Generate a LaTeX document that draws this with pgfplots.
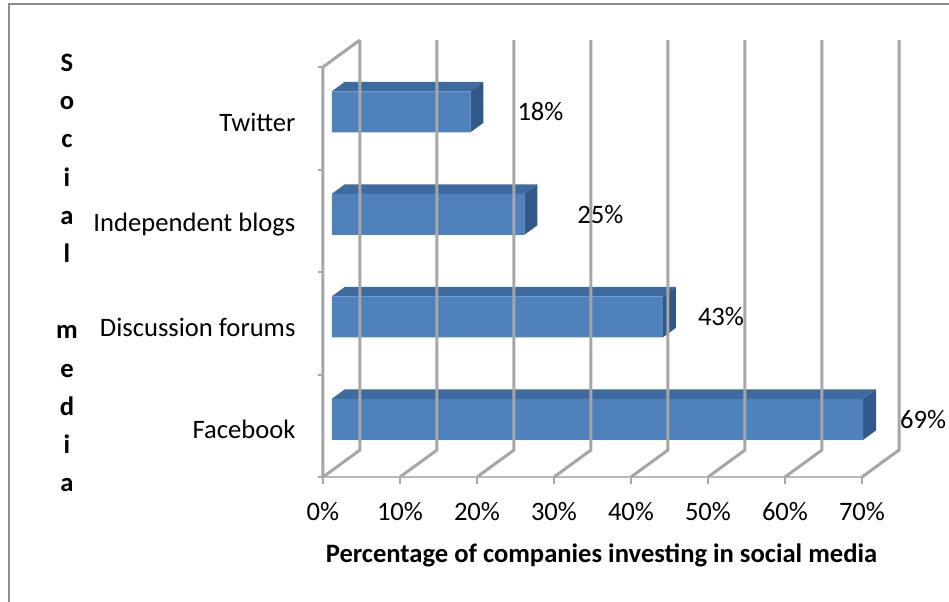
\documentclass[border=0pt]{standalone}
\usepackage{pgfplots}
\usepackage{pgfplotstable}
\pgfplotsset{compat=1.18}
\usepackage{fontspec}
\setmainfont{Carlito}
\definecolor{barfront}{HTML}{4F81BD}
\definecolor{bartop}{HTML}{3D6A9F}
\definecolor{barside}{HTML}{30588A}
\definecolor{gridgray}{HTML}{A6A6A6}
\definecolor{framegray}{HTML}{8C8C8C}
\pgfplotstableread{
y      val  off
0.5632 69   33.5
1.5632 43   31.5
2.5632 25   49.5
3.5632 18   43.5
}\data
\begin{document}
\begin{tikzpicture}
\begin{axis}[
  scale only axis, width=576pt, height=437pt,
  xmin=0, xmax=74.805, ymin=0, ymax=4.2634,
  enlargelimits=false, clip=false,
  axis line style={draw=none},
  /pgf/number format/assume math mode=true,
  xtick={0,10,...,70},
  xticklabels={0\%,10\%,20\%,30\%,40\%,50\%,60\%,70\%},
  xtick pos=left, tick align=outside, major tick length=7pt,
  x tick style={draw=gridgray, line width=2pt},
  ytick={0.5,1.5,2.5,3.5},
  yticklabels={Facebook,Discussion forums,Independent blogs,Twitter},
  ytick pos=left,
  y tick style={draw=none},
  tick label style={font=\fontsize{26.6}{31}\selectfont, text=black},
  xticklabel style={anchor=center, yshift=-28pt},
  yticklabel style={anchor=east, xshift=-17pt, yshift=-4pt},
  xlabel={Percentage of companies investing in social media},
  xlabel style={at={(axis cs:36.17,-0.761)}, anchor=center, font=\bfseries\fontsize{26.6}{31}\selectfont},
  ylabel={S\\o\\c\\i\\a\\l\\\mbox{}\\m\\e\\d\\i\\a},
  ylabel style={rotate=-90, at={(axis cs:-33.25,1.99)}, anchor=center, align=center, font=\bfseries\fontsize{26.6}{38.2}\selectfont},
  xbar stacked, bar width=0.4,
]
% frame
\draw[framegray, line width=1.5pt] (axis cs:-40.78,-1.3) -- (axis cs:-40.78,4.6146) -- (axis cs:85,4.6146);
% floor diagonals and back-wall gridlines
\pgfplotsinvokeforeach{0,10,20,30,40,50,60,70}{
  \draw[gridgray, line width=3pt, line join=miter] (axis cs:#1,0) -- (axis cs:{#1+4.805},0.2634) -- (axis cs:{#1+4.805},4.2634);
}
% left wall front edge
\draw[gridgray, line width=3pt] (axis cs:0,0) -- (axis cs:0,4) -- (axis cs:4.805,4.2634);
% floor front edge
\draw[gridgray!80, line width=2pt] (axis cs:0,0) -- (axis cs:70,0);
% category ticks on the wall
\pgfplotsinvokeforeach{0,1,2,3,4}{
  \draw[gridgray, line width=2pt] (axis cs:-0.65,#1) -- (axis cs:0,#1);
}
% bars: invisible offset (depth position) + values
\addplot[draw=none, fill=none, forget plot] coordinates {(1.153,0.5632) (1.153,1.5632) (1.153,2.5632) (1.153,3.5632)};
\addplot[fill=barfront, draw=none,
  point meta=explicit,
  visualization depends on={\thisrow{val}*3.85+\thisrow{off} \as \shiftx},
  nodes near coords={\pgfmathprintnumber{\pgfplotspointmeta}\%},
  every node near coord/.append style={anchor=west, xshift=\shiftx pt, font=\fontsize{26.6}{31}\selectfont, text=black},
] table[x=val, y=y, meta=val] {\data};
% 3D faces of the bars
\pgfplotsforeachungrouped \i in {0,1,2,3}{%
  \pgfplotstablegetelem{\i}{val}\of\data \let\v=\pgfplotsretval
  \pgfplotstablegetelem{\i}{y}\of\data \let\c=\pgfplotsretval
  \edef\temp{%
    \noexpand\fill[bartop] (axis cs:1.153,{\c+0.2}) -- (axis cs:{1.153+\v},{\c+0.2}) -- (axis cs:{1.153+\v+1.682},{\c+0.2+0.0922}) -- (axis cs:{1.153+1.682},{\c+0.2+0.0922}) -- cycle;
    \noexpand\fill[barside] (axis cs:{1.153+\v},{\c-0.2}) -- (axis cs:{1.153+\v},{\c+0.2}) -- (axis cs:{1.153+\v+1.682},{\c+0.2+0.0922}) -- (axis cs:{1.153+\v+1.682},{\c-0.2+0.0922}) -- cycle;
  }\temp
}
\coordinate (bl) at (axis cs:-41.948,-1.2098);
\coordinate (tr) at (axis cs:81.299,4.6537);
\end{axis}
\pgfresetboundingbox
\path (bl) rectangle (tr);
\end{tikzpicture}
\end{document}
